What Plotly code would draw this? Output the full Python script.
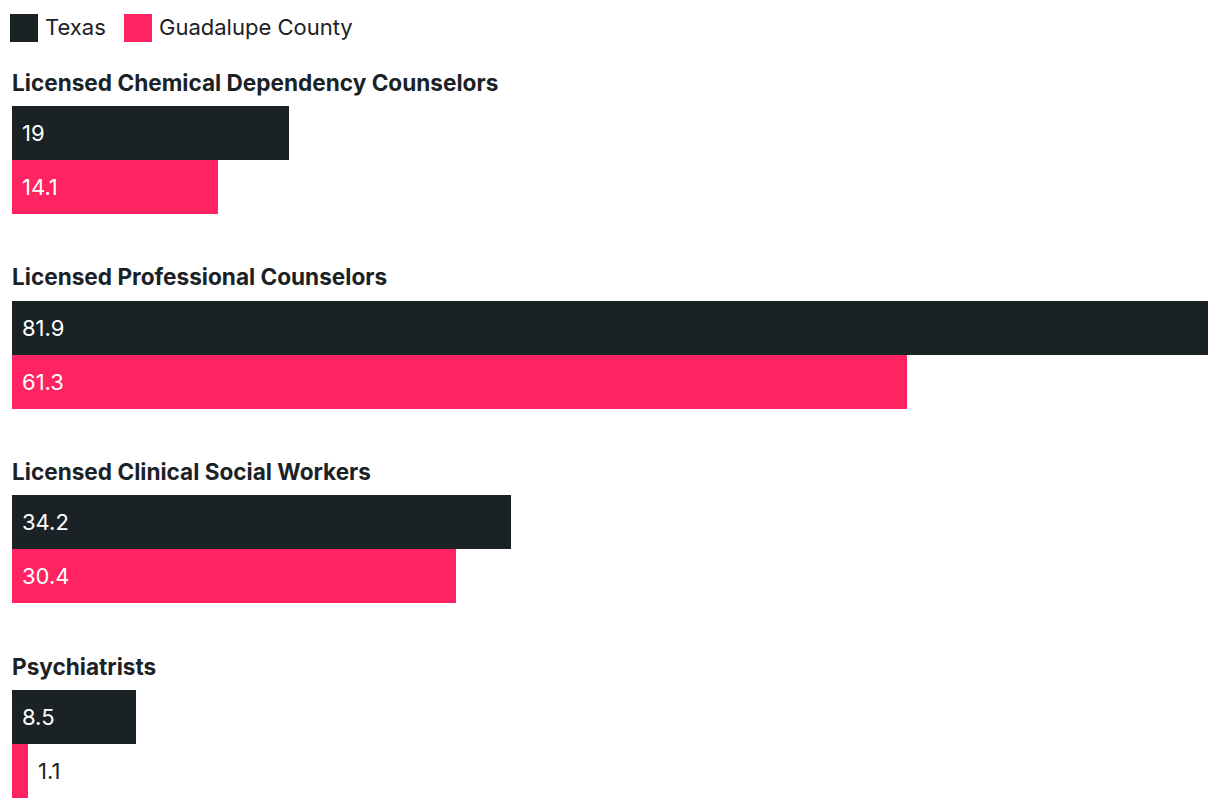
import plotly.graph_objects as go

categories = [
    "Licensed Chemical Dependency Counselors",
    "Licensed Professional Counselors",
    "Licensed Clinical Social Workers",
    "Psychiatrists",
]
texas = [19, 81.9, 34.2, 8.5]
guadalupe = [14.1, 61.3, 30.4, 1.1]
series_names = ["Texas", "Guadalupe County"]

DARK = "#1b2226"
PINK = "#ff2361"
FONT = "Inter, Roboto, sans-serif"

W, H = 1220, 808
OFF = 8  # page body margin pushes the figure 8px right/down
BAR_H = 54
GROUP_TOP = 106 - OFF
GROUP_STEP = 194.7
PLOT_L = 12 - OFF
PLOT_W = 1196

# y axis works in pixels (reversed), so the layout can be laid out like a page
tops = [GROUP_TOP + i * GROUP_STEP for i in range(len(categories))]
y_tx = [t + BAR_H / 2 for t in tops]
y_gc = [t + BAR_H * 1.5 for t in tops]

fig = go.Figure()
for name, vals, ys, col in [
    (series_names[0], texas, y_tx, DARK),
    (series_names[1], guadalupe, y_gc, PINK),
]:
    fig.add_trace(go.Bar(
        x=vals, y=ys, orientation="h", width=BAR_H,
        marker=dict(color=col, line=dict(width=0)),
        name=name, showlegend=False, hoverinfo="x+name",
    ))

xmax = max(texas + guadalupe)
px_per_unit = PLOT_W / xmax

annotations = []
# value labels
for vals, ys in [(texas, y_tx), (guadalupe, y_gc)]:
    for v, y in zip(vals, ys):
        inside = v * px_per_unit > 60
        annotations.append(dict(
            x=0 if inside else v, y=y, xref="x", yref="y",
            text=str(v), showarrow=False, xanchor="left", yanchor="middle",
            xshift=8, font=dict(family=FONT, size=22, color="white" if inside else DARK),
        ))
# category titles
for cat, t in zip(categories, tops):
    annotations.append(dict(
        x=0, y=t - 24, xref="x", yref="y", text="<b>%s</b>" % cat,
        showarrow=False, xanchor="left", yanchor="middle", xshift=-2,
        font=dict(family=FONT, size=22.6, color=DARK),
    ))

# manual legend with big square swatches
shapes = []
leg_x = [10 - OFF, 124 - OFF]
leg_y = 14 - OFF
for name, col, lx in zip(series_names, [DARK, PINK], leg_x):
    shapes.append(dict(type="rect", xref="paper", yref="paper",
                       x0=(lx - PLOT_L) / PLOT_W, x1=(lx + 28 - PLOT_L) / PLOT_W,
                       y0=1 - (leg_y + 28) / H, y1=1 - leg_y / H,
                       fillcolor=col, line=dict(width=0), layer="above"))
    annotations.append(dict(
        x=(lx + 33 - PLOT_L) / PLOT_W, y=1 - (leg_y + 13) / H,
        xref="paper", yref="paper",
        text=name, showarrow=False, xanchor="left", yanchor="middle",
        font=dict(family=FONT, size=22, color=DARK),
    ))

fig.update_layout(
    width=W, height=H,
    margin=dict(l=PLOT_L, r=W - PLOT_L - PLOT_W, t=0, b=0),
    plot_bgcolor="white", paper_bgcolor="white",
    barmode="overlay", bargap=0,
    xaxis=dict(range=[0, xmax], visible=False, fixedrange=True),
    yaxis=dict(range=[H, 0], visible=False, fixedrange=True),
    annotations=annotations, shapes=shapes,
    font=dict(family=FONT),
)

fig.write_html("out.html")
